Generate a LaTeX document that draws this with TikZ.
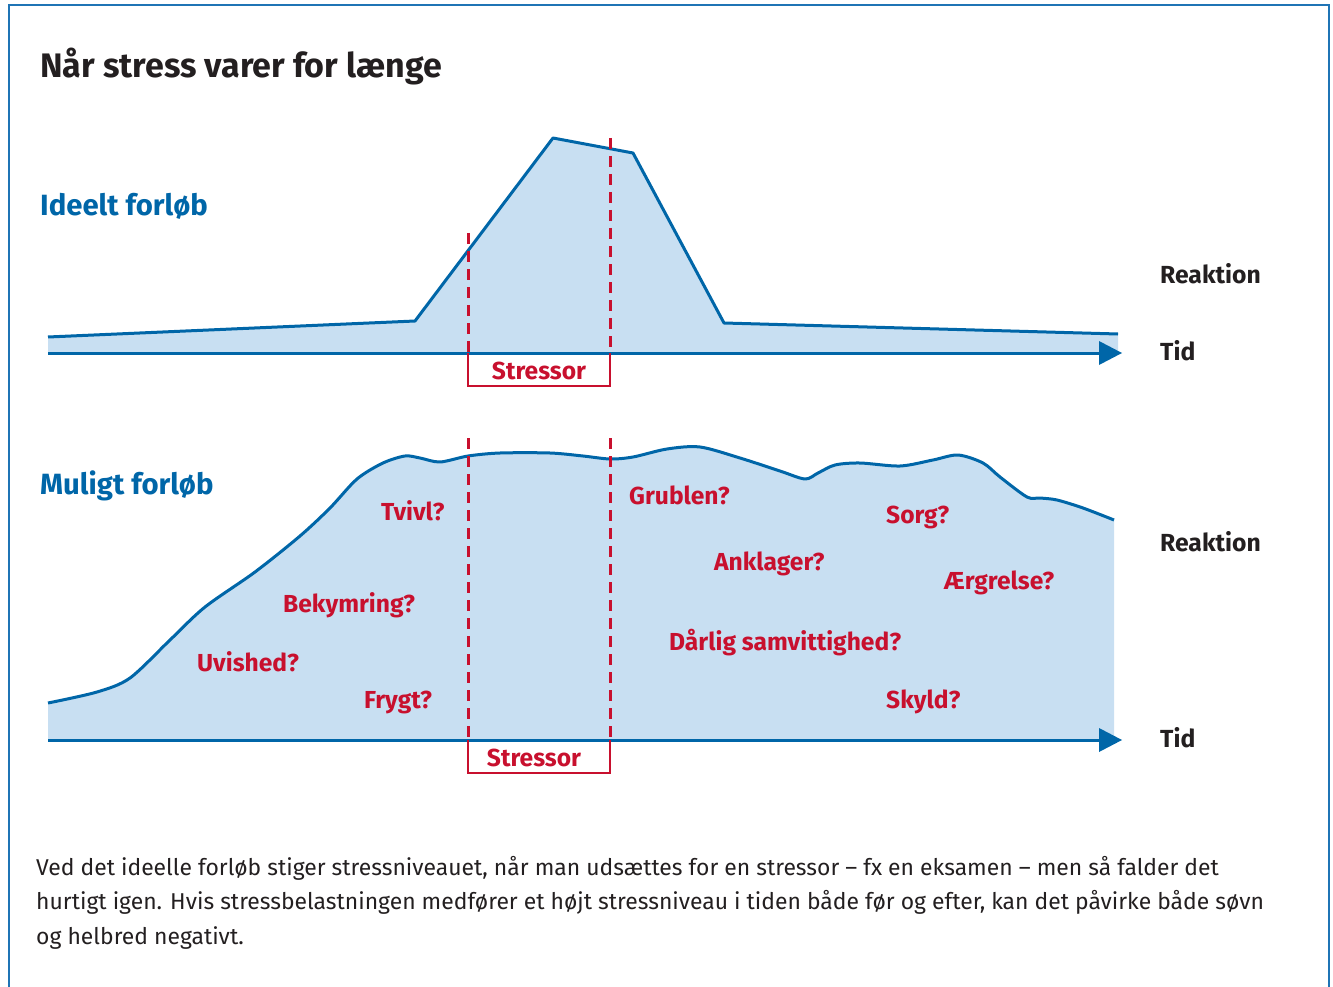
\documentclass[tikz,border=0pt]{standalone}
\usepackage{fontspec}
\setmainfont{Fira Sans}
\definecolor{lineblue}{HTML}{0066A8}
\definecolor{frameblue}{HTML}{1F74B5}
\definecolor{areablue}{HTML}{C8DFF2}
\definecolor{stressred}{HTML}{C8102E}
\definecolor{txt}{HTML}{231F20}
\tikzset{
  lbl/.style={inner sep=0pt, anchor=base west},
  title/.style={lbl, font=\fontsize{34}{40}\selectfont\bfseries, text=txt},
  heading/.style={lbl, font=\fontsize{29.3}{34}\selectfont\bfseries, text=lineblue},
  axislbl/.style={lbl, font=\fontsize{24.7}{29}\selectfont\bfseries, text=txt},
  feel/.style={lbl, font=\fontsize{24.6}{29}\selectfont\bfseries, text=stressred},
  stressorlbl/.style={inner sep=0pt, anchor=base, font=\fontsize{24.6}{29}\selectfont\bfseries, text=stressred},
  body/.style={lbl, font=\fontsize{22.9}{26}\selectfont, text=txt},
  curve/.style={draw=lineblue, line width=3pt, line join=round},
  area/.style={fill=areablue},
  axisline/.style={draw=lineblue, line width=3pt},
  tip/.style={fill=lineblue},
  stressdash/.style={draw=stressred, line width=3pt, dash pattern=on 11pt off 7pt},
  stressbox/.style={draw=stressred, line width=2.2pt},
  frame/.style={draw=frameblue, line width=2.5pt},
}
\begin{document}
\begin{tikzpicture}[x=1pt,y=-1pt]
\useasboundingbox (0,0) rectangle (1333,987);
% frame
\draw[frame] (9,987) -- (9,5) -- (1329,5) -- (1329,987);

\node[title] (t) at (40,78) {Når stress varer for længe};

% ---------- top chart ----------
\fill[area] (48,353) -- (48,337) -- (415,321) -- (553,138) -- (633,153) -- (724,323) -- (1118,334) -- (1118,353) -- cycle;
\draw[curve] (48,337) -- (415,321) -- (553,138) -- (633,153) -- (724,323) -- (1118,334);
\coordinate (a1s) at (48,353);
\coordinate (a1e) at (1100,353);
\draw[axisline] (a1s) -- (a1e);
\fill[tip] (1099,341) -- (1122,353) -- (1099,365) -- cycle;

\coordinate (d1t) at (468,233);
\coordinate (d1b) at (468,353);
\coordinate (d2t) at (610,138);
\coordinate (d2b) at (610,353);
\draw[stressdash] (d1t) -- (d1b);
\draw[stressdash] (d2t) -- (d2b);
\coordinate (b1l) at (468,386);
\coordinate (b1r) at (610,386);
\draw[stressbox] (d1b) -- (b1l) -- (b1r) -- (d2b);
\node[stressorlbl] (s1) at (539,379) {Stressor};

\node[heading] (h1) at (40,216) {Ideelt forløb};
\node[axislbl] (r1) at (1160,283) {Reaktion};
\node[axislbl] (tid1) at (1160,360) {Tid};

% ---------- bottom chart ----------
\def\bottomcurve{(48,703) (97,692) (130,678) (170,640) (205,607) (255,572) (300,536) (330,508) (357,479) (383,463) (405,456) (420,458) (440,462) (468,456) (500,453) (550,453) (583,456) (610,459) (633,457) (667,449) (700,447) (740,458) (780,471) (805,479) (818,473) (835,465) (860,463) (900,466) (933,460) (958,455) (983,463) (1000,477) (1027,497) (1040,498) (1057,500) (1083,508) (1114,520)}
\fill[area] (48,740) -- plot[smooth, tension=0.5] coordinates \bottomcurve -- (1114,740) -- cycle;
\draw[curve] plot[smooth, tension=0.5] coordinates \bottomcurve;
\coordinate (a2s) at (48,740);
\coordinate (a2e) at (1100,740);
\draw[axisline] (a2s) -- (a2e);
\fill[tip] (1099,728) -- (1122,740) -- (1099,752) -- cycle;

\coordinate (e1t) at (468,438);
\coordinate (e1b) at (468,740);
\coordinate (e2t) at (610,438);
\coordinate (e2b) at (610,740);
\draw[stressdash] (e1t) -- (e1b);
\draw[stressdash] (e2t) -- (e2b);
\coordinate (b2l) at (468,773);
\coordinate (b2r) at (610,773);
\draw[stressbox] (e1b) -- (b2l) -- (b2r) -- (e2b);
\node[stressorlbl] (s2) at (534,766) {Stressor};

\node[heading] (h2) at (40,494) {Muligt forløb};
\node[axislbl] (r2) at (1160,551) {Reaktion};
\node[axislbl] (tid2) at (1160,747) {Tid};

\node[feel] (f1) at (381,520) {Tvivl?};
\node[feel] (f2) at (629,504) {Grublen?};
\node[feel] (f3) at (886,523) {Sorg?};
\node[feel] (f4) at (714,570) {Anklager?};
\node[feel] (f5) at (944,589) {Ærgrelse?};
\node[feel] (f6) at (283,612) {Bekymring?};
\node[feel] (f7) at (669,650) {Dårlig samvittighed?};
\node[feel] (f8) at (197,671) {Uvished?};
\node[feel] (f9) at (364,708) {Frygt?};
\node[feel] (f10) at (886,708) {Skyld?};

% ---------- caption ----------
\node[body] (c1) at (36,875) {Ved det ideelle forløb stiger stressniveauet, når man udsættes for en stressor – fx en eksamen – men så falder det};
\node[body] (c2) at (36,909) {hurtigt igen. Hvis stressbelastningen medfører et højt stressniveau i tiden både før og efter, kan det påvirke både søvn};
\node[body] (c3) at (36,944) {og helbred negativt.};
\end{tikzpicture}
\end{document}
